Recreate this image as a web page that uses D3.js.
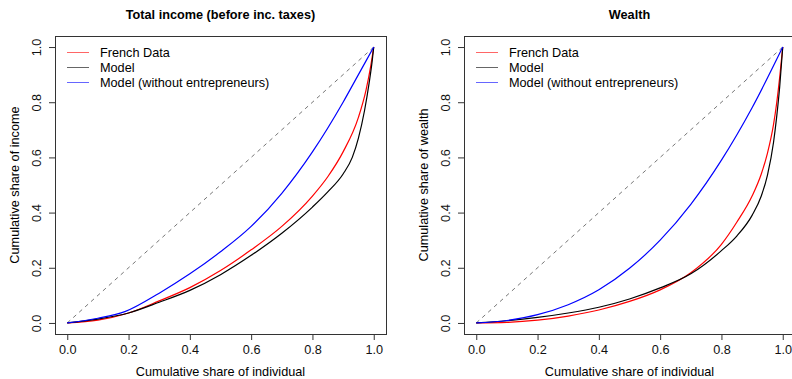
<!DOCTYPE html>
<html>
<head>
<meta charset="utf-8">
<script src="https://cdn.jsdelivr.net/npm/d3@7"></script>
<style>
  body { margin: 0; background: #fff; }
  svg { font-family: "Liberation Sans", Arial, Helvetica, sans-serif; }
</style>
</head>
<body>
<div id="chart"></div>
<script>
// tick values shared by both panels
const xTicks = [0, 0.2, 0.4, 0.6, 0.8, 1.0];
const yTicks = [0, 0.2, 0.4, 0.6, 0.8, 1.0];

const seriesNames = ["French Data", "Model", "Model (without entrepreneurs)"];
const seriesColors = ["#ff0000", "#000000", "#0000ff"];

// Lorenz curves, income (share of individuals, share of income)
const incomeFrench = [[0, 0], [0.1, 0.01], [0.2, 0.036], [0.3, 0.08], [0.4, 0.128],
  [0.5, 0.19], [0.6, 0.265], [0.7, 0.35], [0.8, 0.46], [0.85, 0.53], [0.9, 0.62], [0.95, 0.745],
  [0.975, 0.845], [0.99, 0.93], [1, 1]];
const incomeModel = [[0, 0], [0.1, 0.014], [0.2, 0.036], [0.3, 0.075], [0.4, 0.118], [0.5, 0.175],
  [0.6, 0.245], [0.7, 0.325], [0.8, 0.42], [0.85, 0.475], [0.9, 0.54], [0.93, 0.6], [0.95, 0.67],
  [0.97, 0.77], [0.985, 0.87], [0.995, 0.95], [1, 1]];
const incomeNoEnt = [[0, 0], [0.1, 0.017], [0.19, 0.042], [0.3, 0.108], [0.4, 0.178], [0.5, 0.258],
  [0.6, 0.35], [0.7, 0.47], [0.8, 0.62], [0.9, 0.8], [0.95, 0.9], [1, 1]];

// Lorenz curves, wealth
const wealthFrench = [[0, 0], [0.1, 0.002], [0.2, 0.01], [0.3, 0.025], [0.4, 0.047], [0.5, 0.078],
  [0.6, 0.12], [0.7, 0.182], [0.8, 0.285], [0.85, 0.365], [0.9, 0.46], [0.93, 0.54],
  [0.95, 0.615], [0.97, 0.72], [0.98, 0.795], [0.99, 0.89], [1, 1]];
const wealthModel = [[0, 0], [0.1, 0.008], [0.2, 0.02], [0.3, 0.036], [0.4, 0.057], [0.5, 0.087],
  [0.6, 0.127], [0.7, 0.178], [0.8, 0.262], [0.85, 0.315], [0.9, 0.39], [0.93, 0.46],
  [0.95, 0.535], [0.97, 0.655], [0.98, 0.745], [0.99, 0.855], [1, 1]];
const wealthNoEnt = [[0, 0], [0.1, 0.009], [0.2, 0.03], [0.3, 0.066], [0.4, 0.12], [0.5, 0.198],
  [0.6, 0.3], [0.7, 0.43], [0.8, 0.59], [0.9, 0.78], [1, 1]];

const W = 792, H = 379;
const FONT = 12.7;

const svg = d3.select("#chart").append("svg")
  .attr("width", W).attr("height", H);

function panel(opts) {
  const box = opts.box; // left, top, right, bottom
  const x = d3.scaleLinear().domain([-0.04, 1.04]).range([box.left, box.right]);
  const y = d3.scaleLinear().domain([-0.04, 1.04]).range([box.bottom, box.top]);
  const g = svg.append("g");

  // x axis
  const xAxis = g.append("g")
    .attr("transform", `translate(0, ${box.bottom})`)
    .call(d3.axisBottom(x).tickValues(xTicks).tickFormat(d3.format(".1f")).tickSizeOuter(0).tickSize(6).tickPadding(5));
  xAxis.select(".domain").remove();
  xAxis.selectAll(".tick line").attr("stroke", "#333");
  xAxis.selectAll(".tick text").attr("font-size", FONT).attr("fill", "#111")
    .attr("font-family", "Liberation Sans, Arial, sans-serif");

  // y axis, labels turned like R
  const yAxis = g.append("g")
    .attr("transform", `translate(${box.left}, 0)`)
    .call(d3.axisLeft(y).tickValues(yTicks).tickFormat(d3.format(".1f")).tickSizeOuter(0).tickSize(6));
  yAxis.select(".domain").remove();
  yAxis.selectAll(".tick line").attr("stroke", "#333");
  yAxis.selectAll(".tick text")
    .attr("font-size", FONT).attr("fill", "#111")
    .attr("font-family", "Liberation Sans, Arial, sans-serif")
    .attr("x", null).attr("dy", null)
    .attr("text-anchor", "middle")
    .attr("transform", "translate(-17, 0) rotate(-90)")
    .attr("dominant-baseline", "middle");

  // box
  g.append("rect")
    .attr("x", box.left + 0.5).attr("y", box.top + 0.5)
    .attr("width", box.right - box.left).attr("height", box.bottom - box.top)
    .attr("fill", "none").attr("stroke", "#333").attr("stroke-width", 1);

  // title
  g.append("text")
    .attr("x", (box.left + box.right) / 2).attr("y", 19)
    .attr("text-anchor", "middle").attr("font-weight", "bold").attr("font-size", FONT)
    .text(opts.title);

  // axis titles
  g.append("text")
    .attr("x", (box.left + box.right) / 2).attr("y", 376)
    .attr("text-anchor", "middle").attr("font-size", FONT)
    .text("Cumulative share of individual");
  g.append("text")
    .attr("transform", `translate(${box.left - 36}, ${(box.top + box.bottom) / 2}) rotate(-90)`)
    .attr("text-anchor", "middle").attr("font-size", FONT)
    .text(opts.yTitle);

  // clip for curves
  const clipId = "clip" + opts.id;
  svg.append("clipPath").attr("id", clipId).append("rect")
    .attr("x", box.left + 1).attr("y", box.top + 1)
    .attr("width", box.right - box.left - 1).attr("height", box.bottom - box.top - 1);
  const plot = g.append("g").attr("clip-path", `url(#${clipId})`);

  // 45 degree line
  plot.append("line")
    .attr("x1", x(0)).attr("y1", y(0)).attr("x2", x(1)).attr("y2", y(1))
    .attr("stroke", "#777").attr("stroke-width", 1).attr("stroke-dasharray", "4,4");

  const line = d3.line().x(d => x(d[0])).y(d => y(d[1])).curve(d3.curveMonotoneX);
  opts.series.forEach((s, i) => {
    plot.append("path").datum(s)
      .attr("d", line)
      .attr("fill", "none")
      .attr("stroke", seriesColors[i])
      .attr("stroke-width", 1.2);
  });

  // legend
  const leg = g.append("g");
  seriesNames.forEach((name, i) => {
    const ly = 52.5 + i * 15;
    leg.append("line")
      .attr("x1", box.left + 12).attr("x2", box.left + 34)
      .attr("y1", ly).attr("y2", ly)
      .attr("stroke", seriesColors[i]).attr("stroke-opacity", 0.6).attr("stroke-width", 1);
    leg.append("text")
      .attr("x", box.left + 45).attr("y", ly)
      .attr("dominant-baseline", "central")
      .attr("font-size", FONT)
      .text(name);
  });
}

panel({
  id: "income",
  box: { left: 55, top: 36, right: 386, bottom: 334 },
  title: "Total income (before inc. taxes)",
  yTitle: "Cumulative share of income",
  series: [incomeFrench, incomeModel, incomeNoEnt]
});

panel({
  id: "wealth",
  box: { left: 464, top: 36, right: 795, bottom: 334 },
  title: "Wealth",
  yTitle: "Cumulative share of wealth",
  series: [wealthFrench, wealthModel, wealthNoEnt]
});
</script>
</body>
</html>
